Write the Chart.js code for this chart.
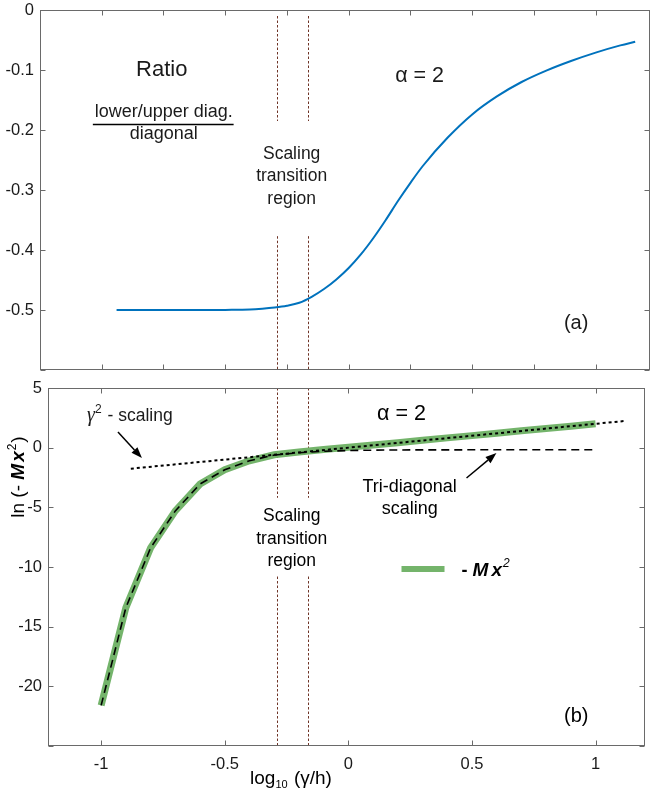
<!DOCTYPE html>
<html><head><meta charset="utf-8">
<script src="https://cdn.jsdelivr.net/npm/chart.js@4/dist/chart.umd.min.js"></script>
<style>
html,body{margin:0;padding:0;background:#fff;width:652px;height:796px;overflow:hidden}
#c1{position:absolute;left:0;top:0}
#c2{position:absolute;left:0;top:370px}
</style></head><body>
<canvas id="c1" width="652" height="380"></canvas>
<canvas id="c2" width="652" height="426"></canvas>
<script>
// ---------- data ----------
const ratioX = [-0.94,-0.8,-0.6,-0.5,-0.4,-0.35,-0.3,-0.25,-0.2,-0.15,-0.1,-0.05,0,0.05,0.1,0.15,0.2,0.25,0.3,0.4,0.5,0.6,0.7,0.8,0.9,1.0,1.1,1.16];
const ratioY = [-0.5,-0.5,-0.5,-0.4998,-0.4993,-0.498,-0.496,-0.493,-0.488,-0.478,-0.465,-0.449,-0.43,-0.407,-0.38,-0.35,-0.318,-0.288,-0.26,-0.213,-0.174,-0.144,-0.12,-0.101,-0.085,-0.071,-0.059,-0.053];

const logGamma = [-1,-0.9,-0.8,-0.7,-0.6,-0.5,-0.4,-0.3,-0.2,-0.1,0,0.1,0.2,0.3,0.4,0.5,0.6,0.7,0.8,0.9,1.0];
const lnMx2    = [-21.6,-13.4,-8.4,-5.3,-3.05,-1.85,-1.1,-0.6,-0.36,-0.15,0.03,0.22,0.42,0.62,0.82,1.01,1.21,1.41,1.6,1.8,2.0];

const triDiagX = [-1,-0.9,-0.8,-0.7,-0.6,-0.5,-0.4,-0.3,-0.2,-0.1,0,0.1,0.2,0.5,1.0];
const triDiagY = [-21.6,-13.4,-8.4,-5.3,-3.05,-1.85,-1.1,-0.62,-0.42,-0.3,-0.24,-0.21,-0.19,-0.18,-0.17];

const gammaSqX = [-0.88, 1.12];
const gammaSqY = [-1.76, 2.24];

const transitionX = [-0.29, -0.165];

const topXTicks = [-1,-0.75,-0.5,-0.25,0,0.25,0.5,0.75,1];
const topYTicks = [0,-0.1,-0.2,-0.3,-0.4,-0.5,-0.6];
const topYLabels = ['0','-0.1','-0.2','-0.3','-0.4','-0.5',''];
const botXTicks = [-1,-0.5,0,0.5,1];
const botXLabels = ['-1','-0.5','0','0.5','1'];
const botYTicks = [5,0,-5,-10,-15,-20,-25];
const botYLabels = ['5','0','-5','-10','-15','-20',''];

// ---------- styling helpers ----------
const FONT = "'Liberation Sans', Arial, Helvetica, sans-serif";
const SERIF = "'Liberation Serif', 'Times New Roman', serif";
const AXIS_COLOR = '#6a6a6a';
const TEXT_COLOR = '#1a1a1a';
const pts = (xs, ys) => xs.map((x, i) => ({x, y: ys[i]}));

function drawRuns(ctx, runs, x, y, align) {
  let w = 0;
  runs.forEach(r => { ctx.font = r.f; w += ctx.measureText(r.t).width + (r.gap || 0); });
  let cx = align === 'center' ? x - w / 2 : (align === 'right' ? x - w : x);
  ctx.textAlign = 'left';
  ctx.textBaseline = 'alphabetic';
  runs.forEach(r => {
    ctx.font = r.f;
    ctx.fillText(r.t, cx, y + (r.dy || 0));
    cx += ctx.measureText(r.t).width + (r.gap || 0);
  });
}
function arrow(ctx, x1, y1, x2, y2) {
  const ang = Math.atan2(y2 - y1, x2 - x1), hl = 11, hw = 4;
  const bx = x2 - hl * Math.cos(ang), by = y2 - hl * Math.sin(ang);
  ctx.beginPath(); ctx.moveTo(x1, y1); ctx.lineTo(bx, by);
  ctx.lineWidth = 1.5; ctx.strokeStyle = '#000'; ctx.setLineDash([]); ctx.stroke();
  ctx.beginPath(); ctx.moveTo(x2, y2);
  ctx.lineTo(bx + hw * Math.sin(ang), by - hw * Math.cos(ang));
  ctx.lineTo(bx - hw * Math.sin(ang), by + hw * Math.cos(ang));
  ctx.closePath(); ctx.fillStyle = '#000'; ctx.fill();
}

const frameTicks = {
  id: 'frameTicks',
  afterDatasetsDraw(chart) {
    const {ctx, chartArea: a, scales: {x, y}} = chart;
    const L = Math.round(a.left) + 0.5, R = Math.round(a.right) - 0.5;
    const T = Math.round(a.top) + 0.5, B = Math.round(a.bottom) - 0.5;
    ctx.save();
    ctx.strokeStyle = AXIS_COLOR; ctx.lineWidth = 1; ctx.setLineDash([]);
    ctx.strokeRect(L, T, R - L, B - T);
    ctx.beginPath();
    x.ticks.forEach(t => {
      const p = Math.round(x.getPixelForValue(t.value)) + 0.5;
      ctx.moveTo(p, B); ctx.lineTo(p, B - 5);
      ctx.moveTo(p, T); ctx.lineTo(p, T + 5);
    });
    y.ticks.forEach(t => {
      const p = Math.round(y.getPixelForValue(t.value)) + 0.5;
      ctx.moveTo(L, p); ctx.lineTo(L + 5, p);
      ctx.moveTo(R, p); ctx.lineTo(R - 5, p);
    });
    ctx.stroke(); ctx.restore();
  }
};

function transitionLines(segments) {
  return {
    id: 'transitionLines',
    beforeDatasetsDraw(chart) {
      const {ctx, scales: {x, y}} = chart;
      ctx.save();
      ctx.strokeStyle = '#6e3326'; ctx.lineWidth = 1; ctx.setLineDash([2.5, 2]);
      transitionX.forEach(tx => {
        const px = Math.round(x.getPixelForValue(tx)) + 0.5;
        segments.forEach(([y1, y2]) => {
          ctx.beginPath();
          ctx.moveTo(px, y.getPixelForValue(y1));
          ctx.lineTo(px, y.getPixelForValue(y2));
          ctx.stroke();
        });
      });
      ctx.restore();
    }
  };
}

function axisTicks(ticksArr) {
  return s => { s.ticks = ticksArr.map(v => ({value: v})); };
}
function fixV(w) { return s => { s.width = w; s.paddingTop = 0; s.paddingBottom = 0; }; }
function fixH(h) { return s => { s.height = h; s.paddingLeft = 0; s.paddingRight = 0; }; }

// ---------- top chart ----------
const topNotes = {
  id: 'topNotes',
  afterDraw(chart) {
    const {ctx, scales: {x, y}} = chart;
    const X = v => x.getPixelForValue(v), Y = v => y.getPixelForValue(v);
    ctx.save(); ctx.fillStyle = TEXT_COLOR;
    drawRuns(ctx, [{t: 'Ratio', f: `22px ${FONT}`}], X(-0.757), Y(-0.096) + 8, 'center');
    drawRuns(ctx, [{t: 'lower/upper diag.', f: `18px ${FONT}`}], X(-0.749), Y(-0.168) + 6, 'center');
    ctx.beginPath(); ctx.moveTo(X(-1.036), Y(-0.191)); ctx.lineTo(X(-0.466), Y(-0.191));
    ctx.strokeStyle = '#000'; ctx.lineWidth = 1.5; ctx.stroke();
    drawRuns(ctx, [{t: 'diagonal', f: `18px ${FONT}`}], X(-0.749), Y(-0.205) + 6, 'center');
    drawRuns(ctx, [{t: 'Scaling', f: `17.5px ${FONT}`}], X(-0.231), Y(-0.238) + 6, 'center');
    drawRuns(ctx, [{t: 'transition', f: `17.5px ${FONT}`}], X(-0.231), Y(-0.275) + 6, 'center');
    drawRuns(ctx, [{t: 'region', f: `17.5px ${FONT}`}], X(-0.231), Y(-0.314) + 6, 'center');
    drawRuns(ctx, [{t: 'α = 2', f: `21.5px ${FONT}`}], X(0.287), Y(-0.109) + 7, 'center');
    drawRuns(ctx, [{t: '(a)', f: `20px ${FONT}`}], X(0.921), Y(-0.52) + 7, 'center');
    ctx.restore();
  }
};

new Chart(document.getElementById('c1'), {
  type: 'scatter',
  data: {
    datasets: [{
      label: 'Ratio lower/upper diag. / diagonal',
      data: pts(ratioX, ratioY),
      showLine: true, borderColor: '#0072BD', borderWidth: 2,
      pointRadius: 0, cubicInterpolationMode: 'monotone', fill: false
    }]
  },
  options: {
    responsive: false, animation: false,
    layout: {padding: {left: 0, top: 10, right: 2, bottom: 0}},
    plugins: {legend: {display: false}, tooltip: {enabled: false}},
    scales: {
      x: {
        type: 'linear', min: -1.25, max: 1.22,
        afterBuildTicks: axisTicks(topXTicks),
        afterFit: fixH(10),
        ticks: {display: false},
        grid: {display: false, drawTicks: false}, border: {display: false}
      },
      y: {
        type: 'linear', min: -0.6, max: 0,
        afterBuildTicks: axisTicks(topYTicks),
        afterFit: fixV(40),
        ticks: {padding: 6, color: TEXT_COLOR, font: {family: FONT, size: 16.5},
                callback: (v, i) => topYLabels[i]},
        grid: {display: false, drawTicks: false}, border: {display: false}
      }
    }
  },
  plugins: [transitionLines([[-0.01, -0.185], [-0.377, -0.6]]), frameTicks, topNotes]
});

// ---------- bottom chart ----------
const botNotes = {
  id: 'botNotes',
  afterDraw(chart) {
    const {ctx, scales: {x, y}} = chart;
    const X = v => x.getPixelForValue(v), Y = v => y.getPixelForValue(v);
    ctx.save(); ctx.fillStyle = TEXT_COLOR;
    // gamma^2 scaling
    drawRuns(ctx, [
      {t: 'γ', f: `italic 20px ${SERIF}`},
      {t: '2', f: `12px ${FONT}`, dy: -8, gap: 1},
      {t: ' - scaling', f: `17.5px ${FONT}`}
    ], X(-1.057), Y(2.74) + 6, 'left');
    arrow(ctx, X(-0.932), Y(1.31), X(-0.835), Y(-0.87));
    drawRuns(ctx, [{t: 'α = 2', f: `21.5px ${FONT}`}], X(0.215), Y(2.9) + 7, 'center');
    drawRuns(ctx, [{t: 'Tri-diagonal', f: `18px ${FONT}`}], X(0.248), Y(-3.21) + 6, 'center');
    drawRuns(ctx, [{t: 'scaling', f: `18px ${FONT}`}], X(0.248), Y(-5.06) + 6, 'center');
    arrow(ctx, X(0.478), Y(-2.54), X(0.599), Y(-0.45));
    drawRuns(ctx, [{t: 'Scaling', f: `17.5px ${FONT}`}], X(-0.229), Y(-5.65) + 6, 'center');
    drawRuns(ctx, [{t: 'transition', f: `17.5px ${FONT}`}], X(-0.229), Y(-7.57) + 6, 'center');
    drawRuns(ctx, [{t: 'region', f: `17.5px ${FONT}`}], X(-0.229), Y(-9.42) + 6, 'center');
    // legend
    ctx.beginPath(); ctx.moveTo(X(0.215), Y(-10.17)); ctx.lineTo(X(0.389), Y(-10.17));
    ctx.strokeStyle = '#74b46b'; ctx.lineWidth = 6; ctx.setLineDash([]); ctx.stroke();
    drawRuns(ctx, [
      {t: '- ', f: `bold 18px ${FONT}`},
      {t: 'M', f: `bold italic 19px ${FONT}`, gap: 3},
      {t: 'x', f: `bold italic 19px ${FONT}`, gap: 1},
      {t: '2', f: `italic 12px ${FONT}`, dy: -9}
    ], X(0.458), Y(-10.17) + 7, 'left');
    drawRuns(ctx, [{t: '(b)', f: `20px ${FONT}`}], X(0.922), Y(-22.4) + 7, 'center');
    // y axis title
    ctx.save();
    ctx.translate(17, 107); ctx.rotate(-Math.PI / 2);
    drawRuns(ctx, [
      {t: 'ln (- ', f: `19px ${FONT}`},
      {t: 'M', f: `bold italic 19px ${FONT}`, gap: 2},
      {t: 'x', f: `bold italic 19px ${FONT}`, gap: 1},
      {t: '2', f: `12px ${FONT}`, dy: -8, gap: 1},
      {t: ')', f: `19px ${FONT}`}
    ], 0, 7, 'center');
    ctx.restore();
    // x axis title
    drawRuns(ctx, [
      {t: 'log', f: `19px ${FONT}`},
      {t: '10', f: `11px ${FONT}`, dy: 4, gap: 1},
      {t: ' (γ/h)', f: `19px ${FONT}`}
    ], 291, 414, 'center');
    ctx.restore();
  }
};

new Chart(document.getElementById('c2'), {
  type: 'scatter',
  data: {
    datasets: [
      {
        label: 'γ² - scaling',
        data: pts(gammaSqX, gammaSqY),
        showLine: true, borderColor: '#000', borderWidth: 2, borderDash: [3, 3],
        pointRadius: 0, fill: false, order: 1
      },
      {
        label: 'Tri-diagonal scaling',
        data: pts(triDiagX, triDiagY),
        showLine: true, borderColor: '#000', borderWidth: 1.6, borderDash: [8, 5],
        pointRadius: 0, fill: false, order: 2
      },
      {
        label: '- Mx²',
        data: pts(logGamma, lnMx2),
        showLine: true, borderColor: '#74b46b', borderWidth: 7,
        pointRadius: 0, fill: false, order: 3
      }
    ]
  },
  options: {
    responsive: false, animation: false,
    layout: {padding: {left: 0, top: 18, right: 7, bottom: 0}},
    plugins: {legend: {display: false}, tooltip: {enabled: false}},
    scales: {
      x: {
        type: 'linear', min: -1.215, max: 1.2,
        afterBuildTicks: axisTicks(botXTicks),
        afterFit: fixH(50),
        ticks: {padding: 9, color: TEXT_COLOR, font: {family: FONT, size: 16.5},
                autoSkip: false, maxRotation: 0, callback: (v, i) => botXLabels[i]},
        grid: {display: false, drawTicks: false}, border: {display: false}
      },
      y: {
        type: 'linear', min: -25, max: 5,
        afterBuildTicks: axisTicks(botYTicks),
        afterFit: fixV(48),
        ticks: {padding: 6, color: TEXT_COLOR, font: {family: FONT, size: 16.5},
                callback: (v, i) => botYLabels[i]},
        grid: {display: false, drawTicks: false}, border: {display: false}
      }
    }
  },
  plugins: [transitionLines([[5, -4.2], [-10.8, -25]]), frameTicks, botNotes]
});
</script>
</body></html>
